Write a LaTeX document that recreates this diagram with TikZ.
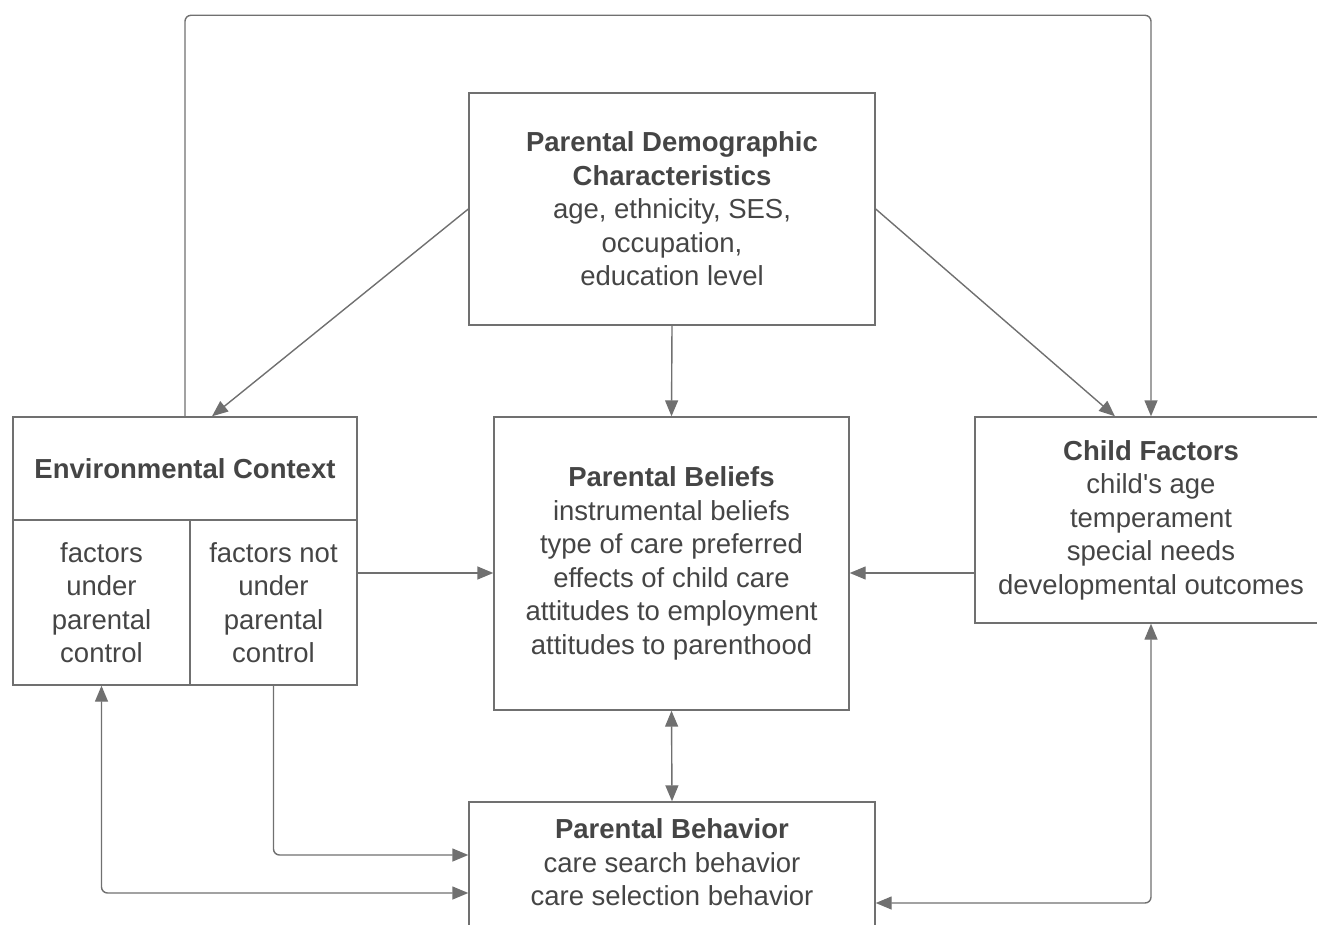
\documentclass[tikz,border=0pt]{standalone}
\usepackage{fontspec}
\setmainfont{Liberation Sans}
\usetikzlibrary{arrows.meta,calc}

\definecolor{linegray}{HTML}{707070}
\definecolor{textgray}{HTML}{454545}

\tikzset{
  box/.style={draw=linegray, line width=1.4pt, rectangle, align=center, text=textgray,
    font=\fontsize{27.5}{33.5}\selectfont, inner sep=0pt},
  link/.style={draw=linegray, line width=1.4pt, rounded corners=6pt,
    -{Triangle[length=16pt,width=13pt]}},
  twolink/.style={link, {Triangle[length=16pt,width=13pt]}-{Triangle[length=16pt,width=13pt]}}
}

\begin{document}
\begin{tikzpicture}[x=1pt, y=-1pt]
\useasboundingbox (0,0) rectangle (1317,925);

% --- Demographics on top ---
\node (pdc) [box, minimum width=406pt, minimum height=232pt] at (672,209)
  {\textbf{Parental Demographic}\\\textbf{Characteristics}\\age, ethnicity, SES,\\occupation,\\education level};

% --- Environmental context (split box) ---
\node (env_head) [box, minimum width=344pt, minimum height=103pt] at (185,468.5) {\textbf{Environmental Context}};
\node (env_ctrl) [box, minimum width=177pt, minimum height=165pt] at (101.5,602.5) {factors\\under\\parental\\control};
\node (env_free) [box, minimum width=167pt, minimum height=165pt] at (273.5,602.5) {factors not\\under\\parental\\control};

% --- Beliefs in the middle ---
\node (beliefs) [box, minimum width=355pt, minimum height=293pt] at (671.5,563.5)
  {\textbf{Parental Beliefs}\\instrumental beliefs\\type of care preferred\\effects of child care\\attitudes to employment\\attitudes to parenthood};

% --- Child factors ---
\node (child) [box, minimum width=352pt, minimum height=206pt] at (1151,520)
  {\textbf{Child Factors}\\child\textquotesingle s age\\temperament\\special needs\\developmental outcomes};

% --- Behavior at the bottom (runs off the page) ---
\node (behavior) [box, minimum width=406pt, minimum height=154.5pt] at (672,879.25)
  {\textbf{Parental Behavior}\\care search behavior\\care selection behavior\\\mbox{}};

\coordinate (midrow) at (0,573);

% --- Connectors ---
\draw[link] (env_head.north) -- ++(0,-401) -| (child.north);
\draw[link] (pdc.west) -- ($(env_head.north)+(27,0)$);
\draw[link] (pdc.east) -- ($(child.north)+(-36,0)$);
\draw[link] (pdc.south) -- (beliefs.north);
\draw[link] (env_free.east |- midrow) -- (beliefs.west |- midrow);
\draw[link] (child.west |- midrow) -- (beliefs.east |- midrow);
\draw[twolink] (beliefs.south) -- (behavior.north);
\draw[link] (env_free.south) |- ($(behavior.west)+(0,-24.25)$);
\draw[twolink] (env_ctrl.south) |- ($(behavior.west)+(0,13.75)$);
\draw[twolink] (child.south) |- ($(behavior.east)+(0,23.75)$);

\end{tikzpicture}
\end{document}
